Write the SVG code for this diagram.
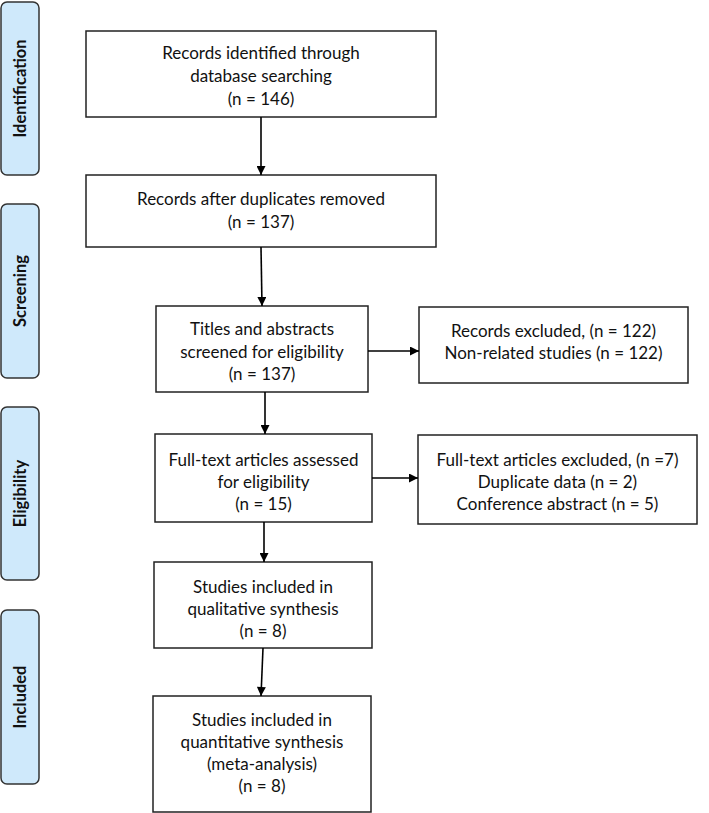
<svg xmlns="http://www.w3.org/2000/svg" width="709" height="813" viewBox="0 0 709 813">
<style>
  .stage rect { fill: #cfe9fb; stroke: #333; stroke-width: 1.5; }
  .stage text { font-family: Lato, "Open Sans", sans-serif; font-weight: bold; font-size: 16.5px; fill: #111; text-anchor: middle; }
  .box rect { fill: #fff; stroke: #222; stroke-width: 1.5; }
  .box text { font-family: Lato, "Open Sans", sans-serif; font-size: 17px; fill: #111; text-anchor: middle; }
  .conn line { stroke: #000; stroke-width: 1.6; marker-end: url(#ah); }
</style>
<defs>
  <marker id="ah" viewBox="0 0 10 10" refX="10" refY="5" markerWidth="10" markerHeight="9" markerUnits="userSpaceOnUse" orient="auto">
    <path d="M0,0 L10,5 L0,10 z" fill="#000"/>
  </marker>
</defs>
<rect width="709" height="813" fill="#fff"/>

<g id="stage-identification" class="stage">
  <rect x="1" y="2" width="38" height="173" rx="6"/>
  <text transform="translate(26,88.5) rotate(-90)">Identification</text>
</g>
<g id="stage-screening" class="stage">
  <rect x="1" y="204" width="38" height="174" rx="6"/>
  <text transform="translate(26,291) rotate(-90)">Screening</text>
</g>
<g id="stage-eligibility" class="stage">
  <rect x="1" y="407" width="38" height="173" rx="6"/>
  <text transform="translate(26,493.5) rotate(-90)">Eligibility</text>
</g>
<g id="stage-included" class="stage">
  <rect x="1" y="610" width="38" height="174" rx="6"/>
  <text transform="translate(26,697) rotate(-90)">Included</text>
</g>

<g id="node-identified" class="box">
  <rect x="86" y="31" width="350" height="86"/>
  <text x="261" y="59">Records identified through</text>
  <text x="261" y="82">database searching</text>
  <text x="261" y="105">(n = 146)</text>
</g>
<g id="node-deduplicated" class="box">
  <rect x="86" y="175" width="350" height="72"/>
  <text x="261" y="205">Records after duplicates removed</text>
  <text x="261" y="228">(n = 137)</text>
</g>
<g id="node-screened" class="box">
  <rect x="156" y="306" width="212" height="86"/>
  <text x="262" y="335">Titles and abstracts</text>
  <text x="262" y="358">screened for eligibility</text>
  <text x="262" y="380">(n = 137)</text>
</g>
<g id="node-excluded1" class="box">
  <rect x="419" y="307" width="269" height="76"/>
  <text x="553.5" y="337">Records excluded, (n = 122)</text>
  <text x="553.5" y="359">Non-related studies (n = 122)</text>
</g>
<g id="node-fulltext" class="box">
  <rect x="155" y="434" width="217" height="88"/>
  <text x="263.5" y="466">Full-text articles assessed</text>
  <text x="263.5" y="488">for eligibility</text>
  <text x="263.5" y="510">(n = 15)</text>
</g>
<g id="node-excluded2" class="box">
  <rect x="418" y="435" width="279" height="89"/>
  <text x="557.5" y="466">Full-text articles excluded, (n =7)</text>
  <text x="557.5" y="488">Duplicate data (n = 2)</text>
  <text x="557.5" y="510">Conference abstract (n = 5)</text>
</g>
<g id="node-qualitative" class="box">
  <rect x="154" y="562" width="218" height="86"/>
  <text x="263" y="593">Studies included in</text>
  <text x="263" y="615">qualitative synthesis</text>
  <text x="263" y="637">(n = 8)</text>
</g>
<g id="node-quantitative" class="box">
  <rect x="153" y="696" width="218" height="116"/>
  <text x="262" y="726">Studies included in</text>
  <text x="262" y="748">quantitative synthesis</text>
  <text x="262" y="770">(meta-analysis)</text>
  <text x="262" y="792">(n = 8)</text>
</g>

<g id="connectors" class="conn">
  <line x1="261" y1="117" x2="261" y2="175"/>
  <line x1="261" y1="247" x2="262" y2="306"/>
  <line x1="265" y1="392" x2="265" y2="434"/>
  <line x1="264" y1="522" x2="264" y2="562"/>
  <line x1="263" y1="648" x2="261" y2="696"/>
  <line x1="368" y1="351" x2="419" y2="351"/>
  <line x1="372" y1="478" x2="418" y2="478"/>
</g>
</svg>
